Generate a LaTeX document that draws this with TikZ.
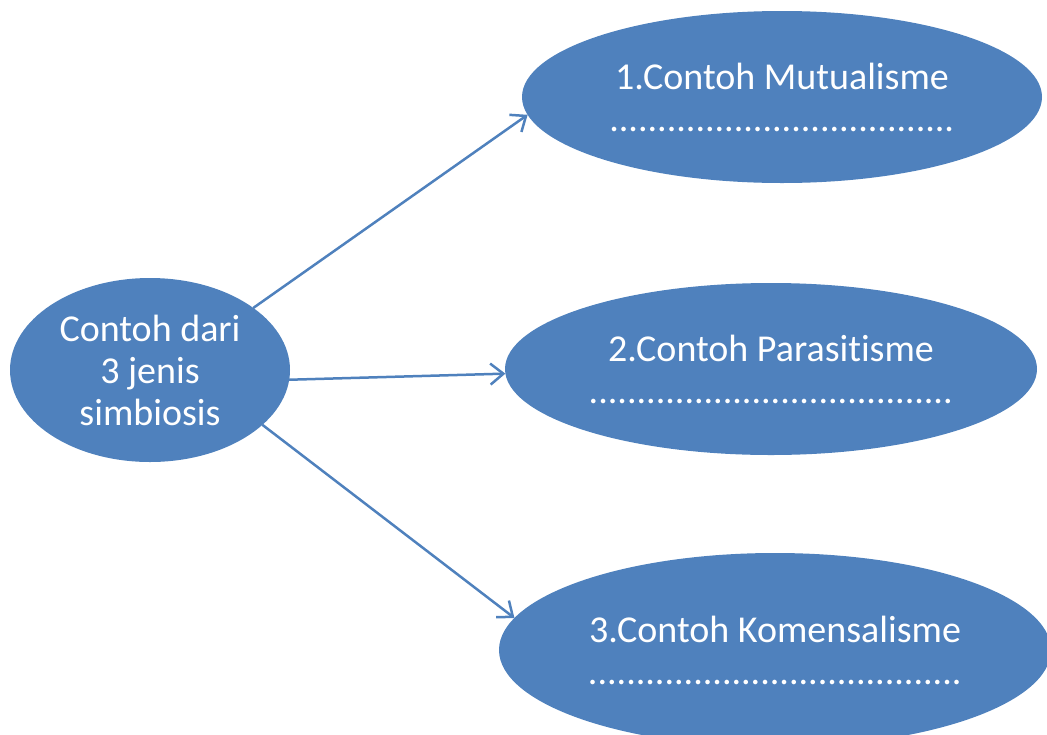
\documentclass[tikz,border=0pt]{standalone}
\usepackage{fontspec}
\setmainfont[Ligatures=NoCommon]{Carlito}
\usetikzlibrary{shapes,arrows.meta}
\definecolor{officeblue}{HTML}{4F81BD}

\begin{document}
\begin{tikzpicture}[x=1pt,y=-1pt,
	bubble/.style={ellipse, fill=officeblue, inner sep=0pt, outer sep=0pt, text=white, align=center,
		font=\fontsize{38}{42}\selectfont},
	link/.style={officeblue, line width=2.5pt, -{Straight Barb[length=13pt,width=21pt,line width=2.5pt]}}]
			\useasboundingbox (0,0) rectangle (1047,734);
			\node[bubble, minimum width=280pt, minimum height=184pt] (simbiosis) at (150,370) {Contoh dari\\3 jenis\\simbiosis};
			\node[bubble, minimum width=520pt, minimum height=172pt] (mutualisme) at (782,97) {1.Contoh Mutualisme\\....................................};
			\node[bubble, minimum width=532pt, minimum height=172pt] (parasitisme) at (771,369) {2.Contoh Parasitisme\\......................................};
			\node[bubble, minimum width=552pt, minimum height=194pt] (komensalisme) at (775,650) {3.Contoh Komensalisme\\.......................................};
			\draw[link] (simbiosis.31.5) -- (mutualisme.184.5);
			\draw[link] (simbiosis.-4.5) -- (parasitisme.181.3);
			\draw[link] (simbiosis.-26.8) -- (komensalisme.173);
		\end{tikzpicture}
\end{document}
